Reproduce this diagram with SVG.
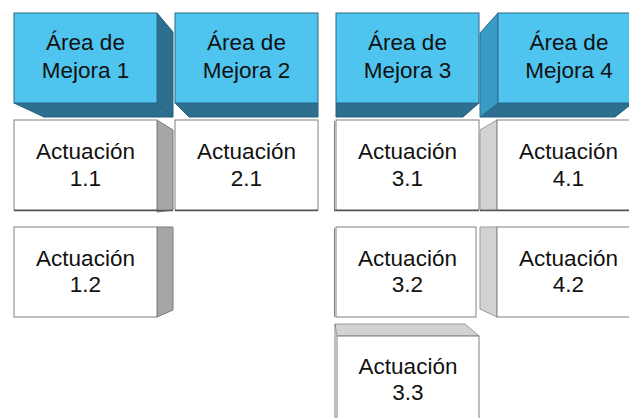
<svg xmlns="http://www.w3.org/2000/svg" width="629" height="418" viewBox="0 0 629 418">
<style>
.front{fill:#4FC4EE;stroke:#2A6A8A;stroke-width:1}
.dark{fill:#2C6F8F;stroke:#23607E;stroke-width:1}
.wf{fill:#FFFFFF;stroke:#808080;stroke-width:1}
.g1{fill:#A6A6A6;stroke:#7A7A7A;stroke-width:1}
.g2{fill:#D2D2D2;stroke:#9A9A9A;stroke-width:1}
.sh{stroke:#555555;stroke-width:1.5;fill:none}
text{font-family:"Liberation Sans",Arial,sans-serif;font-size:22.5px;fill:#111111;text-anchor:middle}
</style>
<rect width="629" height="418" fill="#FFFFFF"/>
<g id="area1">
<polygon class="dark" points="157,13 173,32 173,117 157,103"/>
<polygon class="dark" points="14,103 44,117 173,117 157,103"/>
<rect class="front" x="14" y="13" width="143" height="90"/>
<text x="85.5" y="50">Área de</text>
<text x="85.5" y="78">Mejora 1</text>
</g>
<g id="area2">
<polygon class="dark" points="175,103 189,117 318,117 318,103"/>
<rect class="front" x="175" y="13" width="143" height="90"/>
<text x="246.5" y="50">Área de</text>
<text x="246.5" y="78">Mejora 2</text>
</g>
<g id="area3">
<polygon class="dark" points="336,103 336,117 463,117 479,103"/>
<rect class="front" x="336" y="13" width="143" height="90"/>
<text x="407.5" y="50">Área de</text>
<text x="407.5" y="78">Mejora 3</text>
</g>
<g id="area4">
<polygon class="dark" points="498,103 480,117 615,117 629,106 629,103"/>
<polygon points="498,13 480,33 480,117 498,103" fill="#3A9CC6" stroke="#2A6A8A" stroke-width="1"/>
<rect class="front" x="498" y="13" width="143" height="90"/>
<text x="569" y="50">Área de</text>
<text x="569" y="78">Mejora 4</text>
</g>
<g id="act11">
<polygon class="g1" points="157,120 173,130 173,210 157,212"/>
<rect class="wf" x="14" y="120" width="143" height="90"/>
<line class="sh" x1="14" y1="210.5" x2="173" y2="210.5"/>
<text x="85.5" y="159">Actuación</text>
<text x="85.5" y="186">1.1</text>
</g>
<g id="act21">
<rect class="wf" x="175" y="120" width="143" height="90"/>
<line class="sh" x1="175" y1="210.5" x2="318" y2="210.5"/>
<text x="246.5" y="159">Actuación</text>
<text x="246.5" y="186">2.1</text>
</g>
<g id="act12">
<polygon class="g1" points="157,227 173,227 173,310 157,317"/>
<rect class="wf" x="14" y="227" width="143" height="90"/>
<text x="85.5" y="266">Actuación</text>
<text x="85.5" y="292">1.2</text>
</g>
<g id="act31">
<rect class="wf" x="336" y="120" width="143" height="90"/>
<line x1="334.5" y1="121" x2="334.5" y2="210" stroke="#808080" stroke-width="1"/>
<line class="sh" x1="334" y1="210.5" x2="479" y2="210.5"/>
<text x="407.5" y="159">Actuación</text>
<text x="407.5" y="186">3.1</text>
</g>
<g id="act41">
<polygon class="g2" points="497,120 480,130 480,210 497,210"/>
<rect class="wf" x="497" y="120" width="143" height="90"/>
<line class="sh" x1="480" y1="210.5" x2="629" y2="210.5"/>
<text x="568.5" y="159">Actuación</text>
<text x="568.5" y="186">4.1</text>
</g>
<g id="act32">
<rect class="wf" x="336" y="227" width="140" height="90"/>
<line x1="334.5" y1="228" x2="334.5" y2="317" stroke="#808080" stroke-width="1"/>
<text x="407.5" y="266">Actuación</text>
<text x="407.5" y="292">3.2</text>
</g>
<g id="act42">
<polygon class="g2" points="497,227 480,227 480,309 497,317"/>
<rect class="wf" x="497" y="227" width="143" height="90"/>
<text x="568.5" y="266">Actuación</text>
<text x="568.5" y="292">4.2</text>
</g>
<g id="act33">
<polygon class="g2" points="335,324 465,324 479,336 337,336"/>
<rect class="wf" x="337" y="336" width="142" height="90"/>
<line x1="335" y1="324" x2="335" y2="418" stroke="#808080" stroke-width="1"/>
<text x="408" y="374">Actuación</text>
<text x="408" y="400">3.3</text>
</g>
</svg>
